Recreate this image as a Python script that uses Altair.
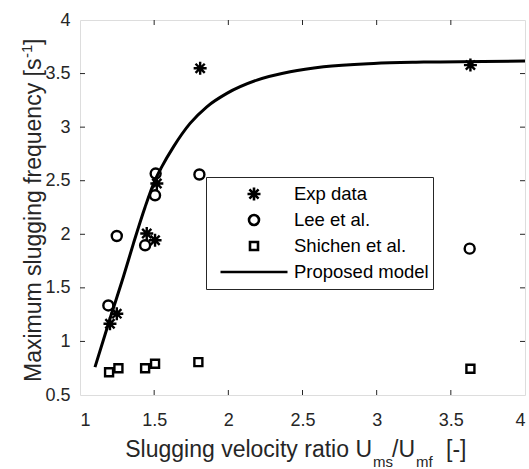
import altair as alt
import pandas as pd

# ---- data ----
series_names = ["Exp data", "Lee et al.", "Shichen et al.", "Proposed model"]

exp_x = [1.202, 1.248, 1.450, 1.506, 1.518, 1.810, 3.632]
exp_y = [1.165, 1.259, 2.007, 1.944, 2.474, 3.549, 3.579]

lee_x = [1.191, 1.248, 1.439, 1.506, 1.510, 1.805, 3.627]
lee_y = [1.336, 1.984, 1.897, 2.364, 2.567, 2.558, 1.866]

shi_x = [1.196, 1.259, 1.439, 1.506, 1.798, 3.632]
shi_y = [0.713, 0.750, 0.750, 0.792, 0.807, 0.745]

model_x = [1.101, 1.202, 1.292, 1.360, 1.439, 1.506, 1.551, 1.630, 1.742,
           1.855, 1.990, 2.193, 2.417, 2.642, 2.980, 3.317, 4.0]
model_y = [0.760, 1.212, 1.601, 1.913, 2.255, 2.505, 2.629, 2.816, 3.035,
           3.190, 3.315, 3.439, 3.517, 3.564, 3.595, 3.607, 3.617]

x_ticks = [1, 1.5, 2, 2.5, 3, 3.5, 4]
y_ticks = [0.5, 1, 1.5, 2, 2.5, 3, 3.5, 4]

# ---- tables ----
pts = pd.DataFrame({
    "x": exp_x + lee_x + shi_x,
    "y": exp_y + lee_y + shi_y,
    "series": [series_names[0]] * len(exp_x) + [series_names[1]] * len(lee_x)
    + [series_names[2]] * len(shi_x),
})
model = pd.DataFrame({"x": model_x, "y": model_y})
xt = pd.DataFrame({"v": x_ticks[1:-1]})
yt = pd.DataFrame({"v": y_ticks[1:-1]})

W, H = 445, 375
FONT = "Liberation Sans"
AX = "#262626"

star = ("M0,-1L0,1M-1,0L1,0M-0.7071,-0.7071L0.7071,0.7071"
        "M-0.7071,0.7071L0.7071,-0.7071")

xs = alt.Scale(domain=[1, 4], nice=False, zero=False)
ys = alt.Scale(domain=[0.5, 4], nice=False, zero=False)

legend = alt.Legend(
    title=None, orient="none", legendX=126, legendY=157,
    strokeColor=AX, fillColor="white", padding=4, clipHeight=26,
    rowPadding=0, labelFontSize=18.5, labelFont=FONT, labelColor="black",
    symbolOffset=9, labelOffset=5, symbolStrokeColor="black",
    symbolStrokeWidth=2.6,
)

points = alt.Chart(pts).mark_point(filled=False, strokeWidth=2.4, color="black", opacity=1).encode(
    x=alt.X("x:Q", scale=xs, axis=alt.Axis(
        values=x_ticks, format="~g", title=None, domain=False, ticks=False,
        grid=False, labelFontSize=18, labelFont=FONT, labelColor=AX,
        labelPadding=16)),
    y=alt.Y("y:Q", scale=ys, axis=alt.Axis(
        values=y_ticks, format="~g", title=None, domain=False, ticks=False,
        grid=False, labelFontSize=18, labelFont=FONT, labelColor=AX,
        labelPadding=10)),
    shape=alt.Shape("series:N", scale=alt.Scale(
        domain=series_names, range=[star, "circle", "square", "stroke"]),
        legend=legend),
    size=alt.Size("series:N", scale=alt.Scale(
        type="ordinal", domain=series_names, range=[169, 100, 64, 4489]),
        legend=legend),
)

line = alt.Chart(model).mark_line(color="black", strokeWidth=3, interpolate="monotone").encode(
    x=alt.X("x:Q", scale=xs), y=alt.Y("y:Q", scale=ys))

tick_style = dict(color=AX, strokeWidth=1)
xb = alt.Chart(xt).mark_rule(**tick_style).encode(x=alt.X("v:Q", scale=xs), y=alt.value(H), y2=alt.value(H - 5))
xtp = alt.Chart(xt).mark_rule(**tick_style).encode(x=alt.X("v:Q", scale=xs), y=alt.value(0), y2=alt.value(5))
yl = alt.Chart(yt).mark_rule(**tick_style).encode(y=alt.Y("v:Q", scale=ys), x=alt.value(0), x2=alt.value(5))
yr = alt.Chart(yt).mark_rule(**tick_style).encode(y=alt.Y("v:Q", scale=ys), x=alt.value(W), x2=alt.value(W - 5))

one = alt.InlineData(values=[{"a": 1}])


def txt(s, x, y, size, angle=0, align="left"):
    return alt.Chart(one).mark_text(
        text=s, fontSize=size, font=FONT, color=AX, align=align,
        baseline="alphabetic", angle=angle).encode(x=alt.value(x), y=alt.value(y))


# x-axis title with subscripts
xtitle = [
    txt("Slugging velocity ratio U", 292, 437, 23, align="right"),
    txt("ms", 293, 447, 15),
    txt("/U", 312, 437, 23),
    txt("mf", 336, 447, 15),
    txt("[-]", 366, 437, 23),
]
# y-axis title with superscript (rotated)
ytitle = [
    txt("Maximum slugging frequency [s", -39, 362, 23, angle=270),
    txt("-1", -48, 38, 15, angle=270),
    txt("]", -39, 25, 23, angle=270),
]

chart = alt.layer(points, line, xb, xtp, yl, yr, *xtitle, *ytitle).properties(
    width=W, height=H, autosize="none",
    padding={"left": 80, "top": 20, "right": 4, "bottom": 74},
).configure_view(stroke=AX, strokeWidth=1.5).configure(background="white")

chart.save("out.html", embed_options={"renderer": "svg", "actions": False})
